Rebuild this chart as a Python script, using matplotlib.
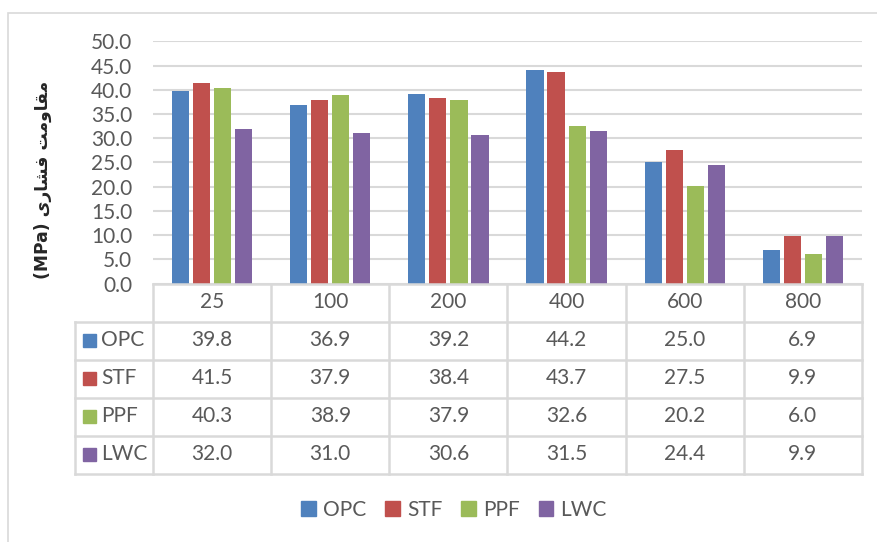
import matplotlib
matplotlib.use("Agg")
import matplotlib.pyplot as plt
from matplotlib.patches import Patch, Rectangle

# data
temps = ["25", "100", "200", "400", "600", "800"]
series = ["OPC", "STF", "PPF", "LWC"]
opc = [39.8, 36.9, 39.2, 44.2, 25.0, 6.9]
stf = [41.5, 37.9, 38.4, 43.7, 27.5, 9.9]
ppf = [40.3, 38.9, 37.9, 32.6, 20.2, 6.0]
lwc = [32.0, 31.0, 30.6, 31.5, 24.4, 9.9]
colors = ["#4F81BD", "#C0504D", "#9BBB59", "#8064A2"]
yticks = [0, 5, 10, 15, 20, 25, 30, 35, 40, 45, 50]

# Persian label "مقاومت فشاری" written in shaped forms, visual order
ylabel = ("(MPa) " + "\uFBFC\uFEAD\uFE8E\uFEB8\uFED3" + " "
          + "\uFE96\uFEE3\uFEED\uFE8E\uFED8\uFEE3")

TXT = "#595959"
GRID = "#D9D9D9"
FS = 15
plt.rcParams["font.family"] = ["Lato", "DejaVu Sans"]

W, H = 878, 542
fig = plt.figure(figsize=(W / 100, H / 100), dpi=100)

# outer chart border (only top/left visible)
fig.patches.append(Rectangle((8 / W, -0.1), 1.2, 1.1 - 13 / H, transform=fig.transFigure,
                             fill=False, edgecolor=GRID, linewidth=1.2))

px_left, px_right, px_top, px_zero = 153, 862, 41.5, 283.5
ax = fig.add_axes([px_left / W, 1 - px_zero / H, (px_right - px_left) / W,
                   (px_zero - px_top) / H])

values = [opc, stf, ppf, lwc]
slot = 0.178
bw = 0.145
for i, (name, vals) in enumerate(zip(series, values)):
    xs = [j + (i - 1.5) * slot for j in range(len(temps))]
    ax.bar(xs, vals, width=bw, color=colors[i], label=name, zorder=3)

ax.set_xlim(-0.5, len(temps) - 0.5)
ax.set_ylim(0, 50)
ax.set_yticks(yticks)
ax.set_yticklabels([f"{v:.1f}" for v in yticks])
ax.tick_params(axis="y", length=0, pad=15, labelsize=FS, labelcolor=TXT)
ax.set_xticks([])
ax.grid(axis="y", color=GRID, linewidth=1.5, zorder=0)
for s in ax.spines.values():
    s.set_visible(False)

fig.text(43 / W, 1 - 180 / H, ylabel, rotation=90, ha="center", va="center",
         fontsize=12.3, fontweight="bold", color="#262626", family=["DejaVu Sans"])

# data table below the plot
tab_left, row_h, nrows = 75, 38, 5
tab = fig.add_axes([tab_left / W, 1 - (px_zero + nrows * row_h) / H,
                    (px_right - tab_left) / W, nrows * row_h / H])
x0 = -0.5 - (px_left - tab_left) / ((px_right - px_left) / len(temps))
tab.set_xlim(x0, len(temps) - 0.5)
tab.set_ylim(nrows, 0)
tab.axis("off")

lw = 1.8
# vertical lines
for k in range(len(temps) + 1):
    tab.plot([k - 0.5, k - 0.5], [0, nrows], color=GRID, lw=lw, clip_on=False)
tab.plot([x0, x0], [1, nrows], color=GRID, lw=lw, clip_on=False)
# horizontal lines
tab.plot([-0.5, len(temps) - 0.5], [0, 0], color=GRID, lw=lw, clip_on=False)
for r in range(1, nrows + 1):
    tab.plot([x0, len(temps) - 0.5], [r, r], color=GRID, lw=lw, clip_on=False)

for j, t in enumerate(temps):
    tab.text(j, 0.5, t, ha="center", va="center", fontsize=FS, color=TXT)
key_w = 13 / ((px_right - px_left) / len(temps))
for i, (name, vals) in enumerate(zip(series, values)):
    y = i + 1.5
    tab.add_patch(Rectangle((x0 + 0.07, y - 0.17), key_w, 0.34, color=colors[i],
                            clip_on=False))
    tab.text(x0 + 0.07 + key_w + 0.04, y, name, ha="left", va="center",
             fontsize=FS, color=TXT)
    for j, v in enumerate(vals):
        tab.text(j, y, f"{v:.1f}", ha="center", va="center", fontsize=FS, color=TXT)

handles = [Patch(color=c, label=n) for c, n in zip(colors, series)]
fig.legend(handles=handles, loc="center", bbox_to_anchor=(454 / W, 1 - 510 / H),
           ncol=4, frameon=False, fontsize=FS, handlelength=0.7, handleheight=0.7,
           handletextpad=0.35, columnspacing=0.9, labelcolor=TXT)

fig.savefig("out.png", dpi=100)
